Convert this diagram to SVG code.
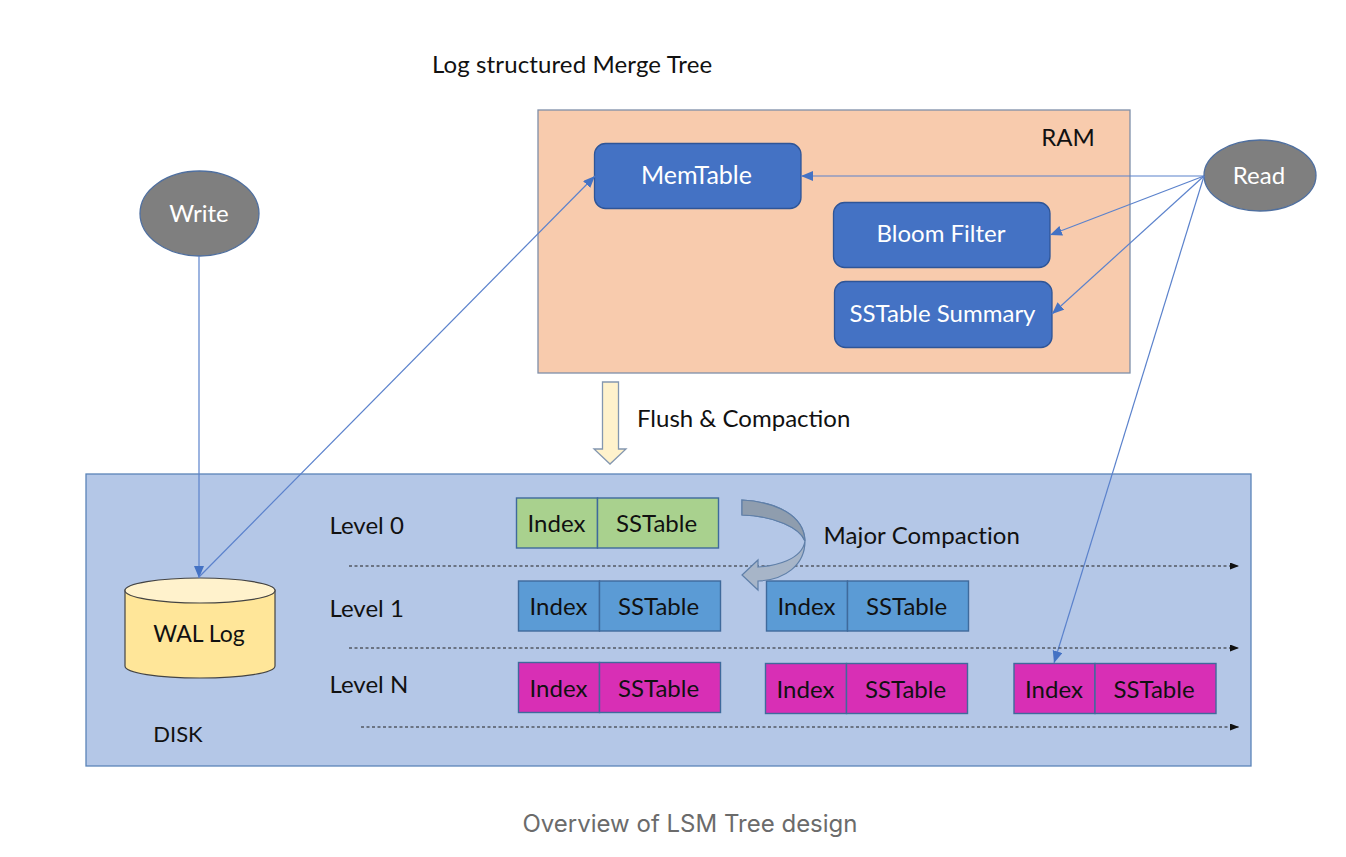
<svg xmlns="http://www.w3.org/2000/svg" width="1346" height="857" viewBox="0 0 1346 857">
<style>
text{font-family:Lato,"Open Sans",sans-serif;font-size:24px;fill:#111;text-anchor:middle}
.s{text-anchor:start}
.w{fill:#fff}
.b{fill:#4472c4;stroke:#2f5597;stroke-width:1.3}
.e{fill:#7f7f7f;stroke:#4f6f9f;stroke-width:1.3}
.c{stroke:#5b82cc;stroke-width:1.2;fill:none}
.d{stroke:#222;stroke-width:1.2;stroke-dasharray:3 2.5;fill:none}
.g{fill:#a9d18e}.u{fill:#5b9bd5}.m{fill:#d82fb5}
#tpl rect{stroke:#3f6a9c;stroke-width:1.4}
</style>
<defs>
<marker id="a" markerUnits="userSpaceOnUse" markerWidth="13" markerHeight="11" refX="12" refY="5" orient="auto"><path d="M0 0L12 5L0 10Z" fill="#4472c4"/></marker>
<marker id="k" markerUnits="userSpaceOnUse" markerWidth="10" markerHeight="8" refX="9" refY="3.500" orient="auto"><path d="M0 0L9 3.500L0 7Z" fill="#111"/></marker>
<g id="tpl"><rect x="0" y="0" width="81" height="50"/><rect x="81" y="0" width="121" height="50"/><text x="40" y="34">Index</text><text x="140" y="34">SSTable</text></g>
</defs>
<rect width="1346" height="857" fill="#fff"/>
<text class="s" x="432" y="73" style="letter-spacing:.12px">Log structured Merge Tree</text>
<g id="ram"><rect x="538" y="110" width="592" height="263" fill="#f8cbad" stroke="#7f8fa9" stroke-width="1.3"/><text x="1068" y="146">RAM</text></g>
<g id="disk"><rect x="86" y="474" width="1165" height="292" fill="#b4c7e7" stroke="#5b84b8" stroke-width="1.3"/><text x="178" y="742" style="font-size:22px">DISK</text></g>
<g id="memtable"><rect class="b" x="594.500" y="143.500" width="206.500" height="65" rx="11"/><text class="w" x="696.500" y="184" style="font-size:25px">MemTable</text></g>
<g id="bloom"><rect class="b" x="833.500" y="202.500" width="216.500" height="65" rx="11"/><text class="w" x="941" y="242">Bloom Filter</text></g>
<g id="summary"><rect class="b" x="834.500" y="281.500" width="217.500" height="66" rx="11"/><text class="w" x="942.500" y="322">SSTable Summary</text></g>
<g id="write"><ellipse class="e" cx="199.500" cy="213.500" rx="59.500" ry="42.500"/><text class="w" x="199" y="222">Write</text></g>
<g id="read"><ellipse class="e" cx="1260" cy="175.500" rx="56" ry="35.500"/><text class="w" x="1259" y="184">Read</text></g>
<g id="wal"><path d="M125 590V666C125 673 158 678 200 678S275 673 275 666V590Z" fill="#ffe699" stroke="#444" stroke-width="1.200"/><ellipse cx="200" cy="590.500" rx="75" ry="12.500" fill="#fff2cc" stroke="#444" stroke-width="1.200"/><text x="199" y="642" style="font-size:23px">WAL Log</text></g>
<g id="flush"><path d="M602.500 382H618.500V449H626L610 464L594 449H602.500Z" fill="#fff2cc" stroke="#8497b0" stroke-width="1.300"/><text class="s" x="637" y="427">Flush &amp; Compaction</text></g>
<g id="levels"><text class="s" x="329.500" y="534">Level 0</text><text class="s" x="329.500" y="617">Level 1</text><text class="s" x="329.500" y="693">Level N</text><text class="s" x="823.500" y="544" style="letter-spacing:.1px">Major Compaction</text></g>
<g id="l0-a" class="g" transform="translate(516.500 498)"><use href="#tpl"/></g>
<g id="l1-a" class="u" transform="translate(518.500 581)"><use href="#tpl"/></g>
<g id="l1-b" class="u" transform="translate(766.500 581)"><use href="#tpl"/></g>
<g id="ln-a" class="m" transform="translate(518.500 662.500)"><use href="#tpl"/></g>
<g id="ln-b" class="m" transform="translate(765.500 663.500)"><use href="#tpl"/></g>
<g id="ln-c" class="m" transform="translate(1014 663.500)"><use href="#tpl"/></g>
<g id="connectors">
<path class="c" marker-end="url(#a)" d="M199 256V578"/>
<path class="c" marker-end="url(#a)" d="M199 577L595 176"/>
<path class="c" marker-end="url(#a)" d="M1204 176H801"/>
<path class="c" marker-end="url(#a)" d="M1204 176L1050 235"/>
<path class="c" marker-end="url(#a)" d="M1204 176L1052 314"/>
<path class="c" marker-end="url(#a)" d="M1204 176L1054 663"/>
<path class="d" marker-end="url(#k)" d="M349 566H1239"/>
<path class="d" marker-end="url(#k)" d="M349 648H1239"/>
<path class="d" marker-end="url(#k)" d="M361 727H1239"/>
</g>
<g id="major-compaction"><path d="M742 500C776 502 804 515 805 541C802 560 775 566 758 567V560L742 575L758 590V581C785 580 805 565 805 541C800 528 775 516 742 515Z" fill="#a7b5c8" stroke="#5f7fa8" stroke-width="1.200"/><path d="M742 500C776 502 804 515 805 541C800 528 775 516 742 515Z" fill="#8f9dae" stroke="#5f7fa8" stroke-width="1.200"/></g>
<text x="690" y="832" style="font-family:Inter,Roboto,sans-serif;fill:#6b6b6b;font-size:24px">Overview of LSM Tree design</text>
</svg>
